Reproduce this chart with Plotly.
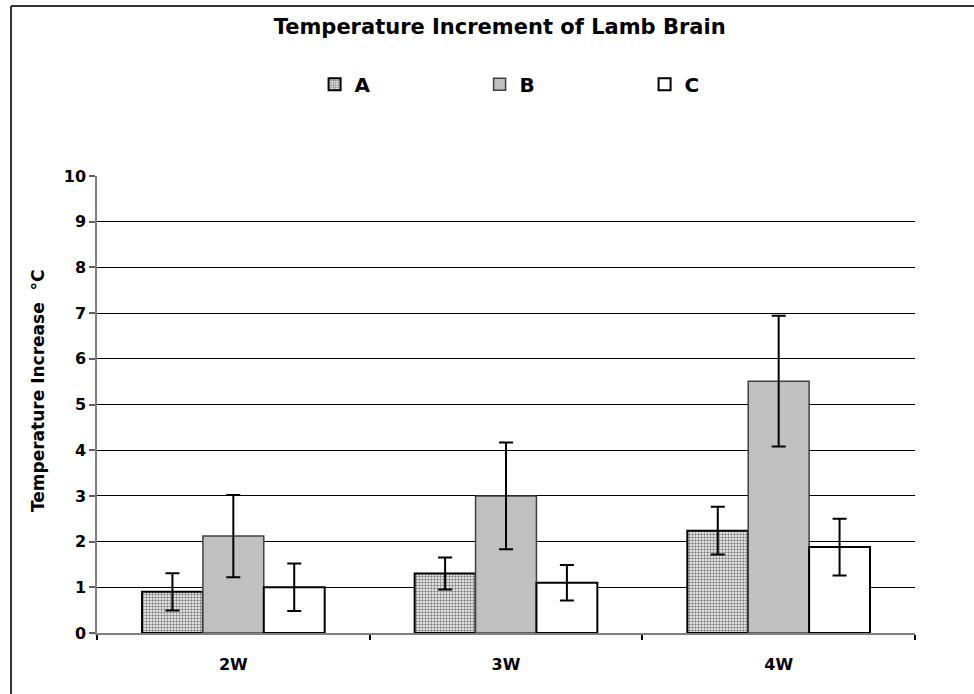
import plotly.graph_objects as go

categories = ["2W", "3W", "4W"]
series_names = ["A", "B", "C"]
values_A = [0.90, 1.30, 2.24]
values_B = [2.12, 3.00, 5.51]
values_C = [1.00, 1.10, 1.88]
err_A = [0.41, 0.35, 0.52]
err_B = [0.90, 1.17, 1.43]
err_C = [0.52, 0.39, 0.62]
y_ticks = list(range(0, 11))

FONT = "DejaVu Sans"

fig = go.Figure()
fig.add_trace(go.Bar(
    name=series_names[0], x=categories, y=values_A,
    marker=dict(color="white", line=dict(color="black", width=2),
                pattern=dict(shape=".", fgcolor="black", bgcolor="white", size=3, solidity=0.5)),
    error_y=dict(type="data", array=err_A, color="black", thickness=2, width=7),
))
fig.add_trace(go.Bar(
    name=series_names[1], x=categories, y=values_B,
    marker=dict(color="#c0c0c0", line=dict(color="#404040", width=1.5)),
    error_y=dict(type="data", array=err_B, color="black", thickness=2, width=7),
))
fig.add_trace(go.Bar(
    name=series_names[2], x=categories, y=values_C,
    marker=dict(color="white", line=dict(color="black", width=2)),
    error_y=dict(type="data", array=err_C, color="black", thickness=2, width=7),
))

fig.update_layout(
    width=974, height=694,
    margin=dict(l=97, r=59, t=176, b=61),
    paper_bgcolor="white", plot_bgcolor="white",
    barmode="group", bargap=0.33, bargroupgap=0,
    font=dict(family=FONT, color="black", size=16, weight="bold"),
    title=dict(text="Temperature Increment of Lamb Brain", x=0.513, xanchor="center",
               y=1 - 27 / 694, yanchor="middle",
               font=dict(family=FONT, size=21, weight="bold", color="black")),
    legend=dict(orientation="h", x=0.266, xanchor="left", y=1.201, yanchor="middle",
                entrywidth=120, entrywidthmode="pixels",
                font=dict(family=FONT, size=20, weight="bold", color="black"),
                bgcolor="rgba(0,0,0,0)", itemwidth=30, traceorder="normal"),
    showlegend=True,
)

fig.update_xaxes(
    type="category", showgrid=False, showline=True, linecolor="#808080", linewidth=2,
    ticks="outside", tickson="boundaries", ticklen=5, tickcolor="black", tickwidth=1.5,
    ticklabelstandoff=16, tickfont=dict(family=FONT, size=16, weight="bold"),
    zeroline=False,
)
fig.update_yaxes(
    range=[0, 10], tickvals=y_ticks, showgrid=True, gridcolor="black", gridwidth=1,
    showline=True, linecolor="#808080", linewidth=1.5,
    ticks="outside", ticklen=6, tickcolor="#606060", tickwidth=1.5,
    tickfont=dict(family=FONT, size=16, weight="bold"),
    zeroline=False,
)

# y-axis title placed as rotated text beside the axis
fig.add_annotation(text="Temperature Increase  °C", textangle=-90, showarrow=False,
                   xref="paper", yref="paper", x=-0.0721, y=0.5295,
                   xanchor="center", yanchor="middle",
                   font=dict(family=FONT, size=17, weight="bold", color="black"))

# outer chart frame (top and left edges visible)
fig.add_shape(type="line", xref="paper", yref="paper", x0=-0.1051, x1=1.2, y0=1.372, y1=1.372,
              line=dict(color="#333333", width=2))
fig.add_shape(type="line", xref="paper", yref="paper", x0=-0.1051, x1=-0.1051, y0=1.372, y1=-0.3,
              line=dict(color="#333333", width=2))

fig.write_html("out.html")
